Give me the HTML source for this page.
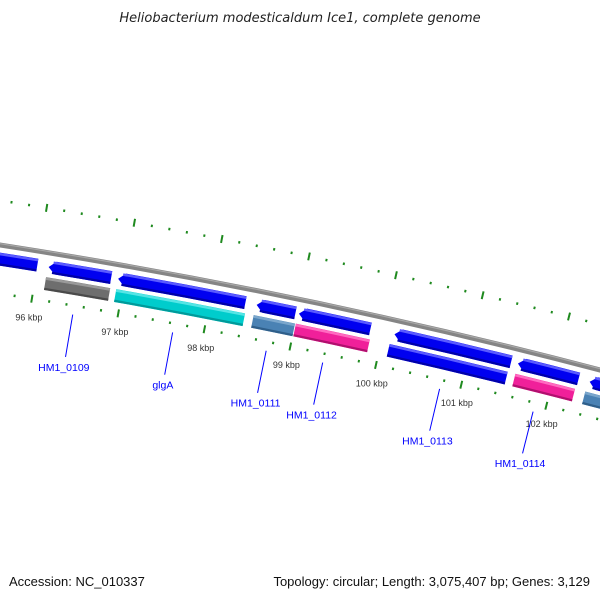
<!DOCTYPE html>
<html><head><meta charset="utf-8"><style>
html,body{margin:0;padding:0;background:#fff;}
svg{display:block;font-family:"Liberation Sans",sans-serif;}
</style></head><body>
<svg id="map" width="600" height="600" viewBox="0 0 600 600" xmlns="http://www.w3.org/2000/svg">
<rect width="600" height="600" fill="#fff"/>
<text x="300" y="22" text-anchor="middle" font-size="13" font-style="italic" fill="#222" style="font-family:'DejaVu Sans',sans-serif">Heliobacterium modesticaldum Ice1, complete genome</text>
<g id="plot"></g>
<text x="9" y="586" font-size="13" fill="#111">Accession: NC_010337</text>
<text x="590" y="586" text-anchor="end" font-size="13" fill="#111">Topology: circular; Length: 3,075,407 bp; Genes: 3,129</text>
</svg>
<script>
const kbpLabels=[96,97,98,99,100,101,102];
const revStarts=[94.5,96.13,96.93,98.53,99.02,100.13,101.57,102.41];
const revEnds=[96.0,96.85,98.40,98.98,99.85,101.49,102.28,103.5];
const fwdStarts=[96.12,96.93,98.52,99.01,100.10,101.57,102.39];
const fwdEnds=[96.86,98.42,99.0,99.87,101.48,102.27,103.5];
const fwdKinds=['gray','cyan','steel','pink','blue','pink','steel'];
const geneNames=['HM1_0109','glgA','HM1_0111','HM1_0112','HM1_0113','HM1_0114'];
const geneKbp=[96.49,97.65,98.74,99.40,100.77,101.87];

const NS='http://www.w3.org/2000/svg';
const plot=document.getElementById('plot');
const A=[0,245],B=[300,299.5],C=[600,370];
function fit(){
  const a1=B[0]-A[0],b1=B[1]-A[1],c1=a1*(A[0]+B[0])/2+b1*(A[1]+B[1])/2;
  const a2=C[0]-B[0],b2=C[1]-B[1],c2=a2*(B[0]+C[0])/2+b2*(B[1]+C[1])/2;
  const d=a1*b2-a2*b1;
  return [(c1*b2-c2*b1)/d,(a1*c2-a2*c1)/d];
}
const [cx,cy]=fit();
const R=Math.hypot(A[0]-cx,A[1]-cy);
const a96=Math.atan2(298-cy,32-cx), a102=Math.atan2(403-cy,547-cx);
const dA=(a102-a96)/6;
function ang(k){return a96+(k-96)*dA;}
function pt(k,off){const a=ang(k),r=R-off;return [cx+r*Math.cos(a),cy+r*Math.sin(a)];}
function f(p){return p[0].toFixed(2)+' '+p[1].toFixed(2);}
function arcPath(k1,k2,off){const r=R-off;return 'M'+f(pt(k1,off))+' A'+r+' '+r+' 0 0 1 '+f(pt(k2,off));}
function el(tag,attrs){const e=document.createElementNS(NS,tag);for(const k in attrs)e.setAttribute(k,attrs[k]);plot.appendChild(e);return e;}

let bb=el('path',{d:arcPath(94,104,0),stroke:'#858585','stroke-width':5,fill:'none'});


let bb2=el('path',{d:arcPath(94,104,-1.3),stroke:'#a8a8a8','stroke-width':1.2,fill:'none'});



for(let i=0;i<=45;i++){
  const k=95.0+i*0.2; const major=(i%5===0);
  const len=major?8:2.5, w=2;
  [[-44],[48]].forEach(([o])=>{
    const t=el('line',{});
    const p1=pt(k,o-len/2),p2=pt(k,o+len/2);
    t.setAttribute('x1',p1[0]);t.setAttribute('y1',p1[1]);t.setAttribute('x2',p2[0]);t.setAttribute('y2',p2[1]);
    t.setAttribute('stroke','#1f8a1f');t.setAttribute('stroke-width',w);
    
    
  });
}
kbpLabels.forEach(k=>{
  const p=pt(k,67);
  const t=el('text',{x:p[0],y:p[1]+3,'text-anchor':'middle','font-size':9,fill:'#333'});
  t.textContent=k+' kbp';
  
  
});

const H=13;
revStarts.forEach((s,i)=>{
  const e=revEnds[i],off=14,ro=off-H/2,ri=off+H/2,ah=0.08;
  const rOut=R-ro,rIn=R-ri;
  const d='M'+f(pt(s,off))+' L'+f(pt(s+ah,ro))+' A'+rOut+' '+rOut+' 0 0 1 '+f(pt(e,ro))+' L'+f(pt(e,ri))+' A'+rIn+' '+rIn+' 0 0 0 '+f(pt(s+ah,ri))+' Z';
  const g=el('path',{d:d,fill:'#0000f0'});
  
  
  const hl=el('path',{d:arcPath(s+ah*0.6,e,ro+1.5),stroke:'#5a5aff','stroke-width':2.5,fill:'none'});
  
  
  const sh=el('path',{d:arcPath(s+ah*0.6,e,ri-1.2),stroke:'#0000a8','stroke-width':2.2,fill:'none'});
  
  
});
const pal={gray:['#6e6e6e','#9a9a9a','#4a4a4a'],cyan:['#00cccc','#55e5e5','#009a9a'],steel:['#4a82b4','#7aa6cc','#2f5f8a'],pink:['#f0209a','#ff6ac0','#b0106e'],blue:['#0000f0','#5a5aff','#0000a8']};
fwdStarts.forEach((s,i)=>{
  const e=fwdEnds[i],off=31,ro=off-H/2,ri=off+H/2,c=pal[fwdKinds[i]];
  const rOut=R-ro,rIn=R-ri;
  const d='M'+f(pt(s,ro))+' A'+rOut+' '+rOut+' 0 0 1 '+f(pt(e,ro))+' L'+f(pt(e,ri))+' A'+rIn+' '+rIn+' 0 0 0 '+f(pt(s,ri))+' Z';
  const g=el('path',{d:d,fill:c[0]});
  
  
  const hl=el('path',{d:arcPath(s,e,ro+1.5),stroke:c[1],'stroke-width':2.5,fill:'none'});
  
  
  const sh=el('path',{d:arcPath(s,e,ri-1.2),stroke:c[2],'stroke-width':2.2,fill:'none'});
  
  
});
geneNames.forEach((n,i)=>{
  const k=geneKbp[i];
  const p1=pt(k,57),p2=pt(k,100),p3=pt(k,110);
  const l=el('line',{x1:p1[0],y1:p1[1],x2:p2[0],y2:p2[1],stroke:'#0000ff','stroke-width':1});
  
  
  const t=el('text',{x:p3[0],y:p3[1]+4,'text-anchor':'middle','font-size':10.5,fill:'#0000ff'});
  t.textContent=n;
  
  
});
</script>
</body></html>
